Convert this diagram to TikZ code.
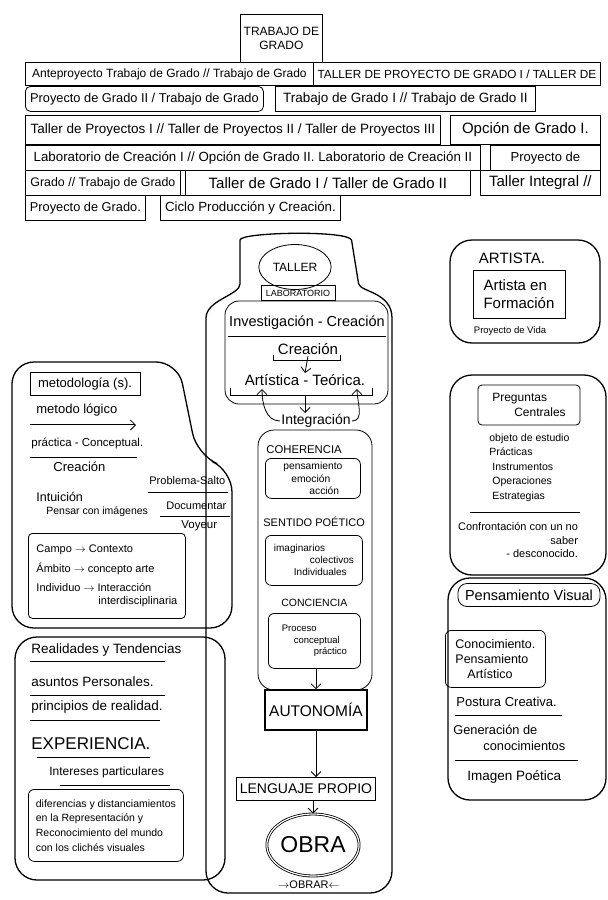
\documentclass[tikz,border=0pt]{standalone}
\usepackage{fontspec}
\setmainfont{Liberation Sans}
\usetikzlibrary{positioning, arrows.meta, shapes.geometric, calc}
\newcommand{\fsz}[1]{\fontsize{#1}{#1}\selectfont\baselineskip=1.2em}
\tikzset{every picture/.append style={thick}}
\tikzset{
  rowbox/.style={draw, anchor=north west, inner sep=2pt},
  frame/.style={draw, rounded corners=22pt, line width=1.3pt},
  inbox/.style={draw, rounded corners=6pt, align=left, inner sep=3pt, anchor=north west},
  lbl/.style={inner sep=1pt, align=center},
  lft/.style={inner sep=1pt, align=left, anchor=west},
  flow/.style={-{Straight Barb[length=5pt]}},
}

\begin{document}
\begin{tikzpicture}[thick, x=1pt, y=-1pt]
    \useasboundingbox (0,0) rectangle (608,900);

    % Title and course rows
    \node[draw, minimum width=73, minimum height=48, anchor=north west, align=center,
          font=\fsz{12}] (tg) at (240,14) {TRABAJO DE\\GRADO};
    \node[rowbox, minimum width=288, minimum height=23, font=\fsz{12}] (ante) at (25,62) {Anteproyecto Trabajo de Grado // Trabajo de Grado};
    \node[rowbox, minimum width=287, minimum height=23, font=\fsz{11.8}] (tpg) at (313,62) {TALLER DE PROYECTO DE GRADO I / TALLER DE};
    \node[rowbox, rounded corners=5pt, minimum width=238, minimum height=25, font=\fsz{12.8}] (pg2) at (25,86) {Proyecto de Grado II / Trabajo de Grado};
    \node[rowbox, minimum width=260, minimum height=25, font=\fsz{13.5}] (tgr12) at (275,86) {Trabajo de Grado I // Trabajo de Grado II};
    \node[rowbox, minimum width=415, minimum height=29, font=\fsz{13.5}] (tpr) at (25,115) {Taller de Proyectos I // Taller de Proyectos II / Taller de Proyectos III};
    \node[rowbox, minimum width=150, minimum height=29, font=\fsz{15}] (og1) at (450,115) {Opción de Grado I.};
    \node[rowbox, minimum width=455, minimum height=25, font=\fsz{13.3}] (lab) at (25,145) {Laboratorio de Creación I // Opción de Grado II. Laboratorio de Creación II};
    \node[rowbox, minimum width=110, minimum height=25, font=\fsz{13}] (pde) at (490,145) {Proyecto de};
    \node[rowbox, minimum width=155, minimum height=25, font=\fsz{12.4}] (gtg) at (25,170) {Grado // Trabajo de Grado};
    \node[rowbox, minimum width=285, minimum height=25, font=\fsz{15}] (tdg) at (185,170) {Taller de Grado I / Taller de Grado II};
    \node[rowbox, minimum width=120, minimum height=25, font=\fsz{15}] (tint) at (480,170) {Taller Integral //};
    \node[rowbox, minimum width=120, minimum height=25, font=\fsz{12.8}] (pdg) at (25,195) {Proyecto de Grado.};
    \node[rowbox, minimum width=180, minimum height=25, font=\fsz{13.3}] (cpc) at (160,195) {Ciclo Producción y Creación.};

    % Central column
    \draw[frame] (206,893) -- (206,340) .. controls (206,300) and (240,295) .. (240,262)
        .. controls (240,232) and (350,230) .. (355,262) .. controls (360,292) and (392,292) .. (392,340)
        -- (392,893) -- cycle;
    \node[draw, ellipse, minimum width=62, minimum height=45, font=\fsz{12}] (taller) at (295,267) {TALLER};
    \node[draw, minimum width=74, minimum height=15, inner sep=1pt, font=\fsz{9}] (labor) at (298,293) {LABORATORIO};
    \draw[rounded corners=14pt] (225,301) rectangle (388,404);
    \node[lbl, font=\fsz{14.5}] (invcre) at (307,323) {Investigación - Creación};
    \draw (228,336) -- (386,336);
    \node[lbl, font=\fsz{15}] (creac) at (308,349) {Creación};
    \draw (273,355) -- (273,360) -- (340,360) -- (340,355);
    \node[lbl, font=\fsz{15}] (artteo) at (305,380) {Artística - Teórica.};
    \coordinate (brl) at (230,395);
    \coordinate (brr) at (372,395);
    \coordinate (brc) at (305,395);
    \draw (brl) ++(0,-7) -- (brl) -- (brr) -- ++(0,-7);
    \draw[flow] (creac.south) -- (artteo.north);
    \node[lbl, font=\fsz{14}] (integ) at (316,421) {Integración};
    \draw[flow] (brc) -- (brc |- integ.north);
    \draw[flow] (integ.west) to[out=180, in=-90] (262,389);
    \draw[flow] (integ.east) to[out=0, in=-90] (357,389);

    \draw[rounded corners=16pt] (258,430) rectangle (372,690);
    \node[lft, font=\fsz{11.3}] (coher) at (265,450) {COHERENCIA};
    \node[inbox, minimum width=95, minimum height=40, font=\fsz{10.3}] (pea) at (265,458) {pensamiento\\\hspace*{8pt}emoción\\\hspace*{26pt}acción};
    \node[lft, font=\fsz{11}] (sentido) at (262,522) {SENTIDO POÉTICO};
    \node[inbox, minimum width=97, minimum height=50, font=\fsz{10}] (imag) at (265,535) {imaginarios\\\hspace*{36pt}colectivos\\\hspace*{20pt}Individuales};
    \node[lft, font=\fsz{10.5}] (concien) at (280,603) {CONCIENCIA};
    \node[inbox, minimum width=92, minimum height=55, font=\fsz{9.5}] (proc) at (268,613) {Proceso\\\hspace*{12pt}conceptual\\\hspace*{32pt}práctico};
    \node[draw, line width=1.6pt, minimum width=102, minimum height=40, font=\fsz{15.5}] (auton) at (316,710) {AUTONOMÍA};
    \node[draw, minimum width=138, minimum height=23, font=\fsz{14}] (lengua) at (306,789) {LENGUAJE PROPIO};
    \node[draw, ellipse, double, double distance=1.2pt, minimum width=84, minimum height=62, inner sep=0pt,
          font=\fsz{23}] (obra) at (313,845) {OBRA};
    \node[lbl, font=\fsz{11}] (obrar) at (309,885) {$\rightarrow$OBRAR$\leftarrow$};
    \draw[flow] (proc.south -| auton.north) -- (auton.north);
    \draw[flow] (auton.south) -- (auton.south |- lengua.north);
    \draw[flow] (lengua.south -| obra.north) -- (obra.north);

    % Metodologia
    \draw[frame] (12,362) -- (178,362) -- (197,455) -- (232,470) -- (232,628) -- (12,628) -- cycle;
    \node[draw, minimum width=110, minimum height=23, font=\fsz{13}] (metod) at (85,384) {metodología (s).};
    \node[lft, font=\fsz{13}] (mlog) at (35,410) {metodo lógico};
    \draw[double, -{Straight Barb[length=5pt]}] (30,425) -- (136,425);
    \node[lft, font=\fsz{11.5}] (pracon) at (30,443) {práctica - Conceptual.};
    \draw (30,457) -- (137,457);
    \node[lft, font=\fsz{13}] (creac2) at (52,467) {Creación};
    \node[lft, font=\fsz{12.5}] (intu) at (35,497) {Intuición};
    \node[lft, font=\fsz{10.5}] (pensar) at (45,512) {Pensar con imágenes};
    \node[lft, font=\fsz{11}] (probl) at (148,481) {Problema-Salto};
    \draw (148,492) -- (228,492);
    \node[lft, font=\fsz{11}] (docum) at (165,506) {Documentar};
    \draw (160,516) -- (230,516);
    \node[lft, font=\fsz{11.5}] (voyeur) at (180,526) {Voyeur};
    \node[inbox, rounded corners=4pt, minimum width=157, minimum height=85, font=\fsz{11}] (campo) at (28,533)
        {Campo $\rightarrow$ Contexto\\[6pt]Ámbito $\rightarrow$ concepto arte\\[6pt]Individuo $\rightarrow$ Interacción\\\hspace*{62pt}interdisciplinaria};

    % Realidades y tendencias
    \draw[frame] (15,637) rectangle (225,880);
    \node[lft, font=\fsz{13.5}] (realid) at (30,650) {Realidades y Tendencias};
    \draw (30,661) -- (165,661);
    \node[lft, font=\fsz{13.5}] (asun) at (30,682) {asuntos Personales.};
    \draw (30,695) -- (165,695);
    \node[lft, font=\fsz{13.5}] (princ) at (30,707) {principios de realidad.};
    \draw (30,720) -- (160,720);
    \node[lft, font=\fsz{17}] (exper) at (30,744) {EXPERIENCIA.};
    \draw (37,757) -- (150,757);
    \node[lft, font=\fsz{12}] (inter) at (48,772) {Intereses particulares};
    \draw (60,785) -- (170,785);
    \node[inbox, minimum width=155, minimum height=72, font=\fsz{10.5}] (difer) at (28,789)
        {diferencias y distanciamientos\\[2pt]en la Representación y\\[2pt]Reconocimiento del mundo\\[2pt]con los clichés visuales};

    % Artista
    \draw[frame] (450,240) rectangle (600,343);
    \node[lbl, font=\fsz{15}] (artista) at (512,258) {ARTISTA.};
    \node[draw, minimum width=92, minimum height=48, align=left, font=\fsz{15}] (forma) at (519,294) {Artista en\\Formación};
    \node[lbl, font=\fsz{9.5}] (vida) at (510,331) {Proyecto de Vida};

    % Preguntas centrales
    \draw[frame] (450,375) rectangle (606,575);
    \node[draw, rounded corners=4pt, minimum width=102, minimum height=40, align=left, font=\fsz{12}] (preg) at (529,405)
        {Preguntas\\\hspace*{22pt}Centrales};
    \node[lbl, align=left, anchor=north west, font=\fsz{10.5}] (objeto) at (488,432)
        {objeto de estudio\\[2pt]Prácticas\\[2pt]\hspace*{3pt}Instrumentos\\[2pt]\hspace*{3pt}Operaciones\\[2pt]\hspace*{3pt}Estrategias};
    \draw (470,512) -- (580,512);
    \node[lbl, align=right, font=\fsz{11}] (confr) at (518,540) {Confrontación con un no\\saber\\- desconocido.};

    % Pensamiento visual
    \draw[frame] (448,578) rectangle (606,800);
    \node[draw, rounded corners=9pt, minimum width=142, minimum height=23, font=\fsz{14.5}] (pvis) at (529,595) {Pensamiento Visual};
    \node[inbox, minimum width=100, minimum height=57, font=\fsz{12.5}] (conoc) at (445,630) {Conocimiento.\\Pensamiento\\\hspace*{12pt}Artístico};
    \node[lft, font=\fsz{13}] (postura) at (455,702) {Postura Creativa.};
    \draw (455,715) -- (562,715);
    \node[lft, font=\fsz{12.8}] (gener) at (452,738) {Generación de\\\hspace*{30pt}conocimientos};
    \draw (455,760) -- (578,760);
    \node[lft, font=\fsz{13.5}] (imagen) at (466,777) {Imagen Poética};
\end{tikzpicture}
\end{document}
